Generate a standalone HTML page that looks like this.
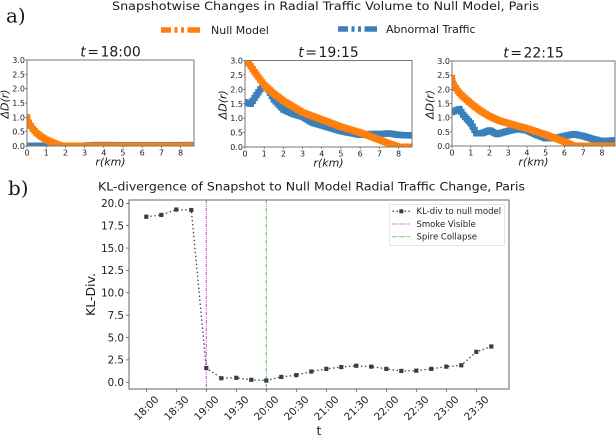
<!DOCTYPE html>
<html lang="en">
<head>
<meta charset="utf-8">
<title>Snapshotwise Changes in Radial Traffic Volume</title>
<style>
html,body{margin:0;padding:0;background:#fff;width:616px;height:436px;overflow:hidden}
svg{display:block;font-family:"DejaVu Sans","Liberation Sans",sans-serif;fill:#222}
svg text{fill:#1c1c1c}
</style>
</head>
<body>
<svg id="chart" width="616" height="436" viewBox="0 0 616 436" xmlns="http://www.w3.org/2000/svg">
  <defs>
    <filter id="soft" x="-5%" y="-5%" width="110%" height="110%"><feGaussianBlur stdDeviation="0.3"/></filter>
  </defs>
  <g id="root" filter="url(#soft)">
    <text x="6" y="22.5" font-family="'DejaVu Serif','Liberation Serif',serif" font-size="20">a)</text>
    <text x="8" y="195" font-family="'DejaVu Serif','Liberation Serif',serif" font-size="20">b)</text>
    <text x="112" y="10" font-size="11.8" textLength="427" lengthAdjust="spacingAndGlyphs">Snapshotwise Changes in Radial Traffic Volume to Null Model, Paris</text>
    <text x="98" y="190.5" font-size="11.8" textLength="427" lengthAdjust="spacingAndGlyphs">KL-divergence of Snapshot to Null Model Radial Traffic Change, Paris</text>

    <g>
      <line x1="161" x2="200" y1="30" y2="30" stroke="#ff7f0e" stroke-width="5.5" stroke-dasharray="10 3.5 3 3.5 3 3.5 13"/>
      <text x="211" y="34" font-size="11">Null Model</text>
    </g>
    <g>
      <line x1="338" x2="377" y1="29" y2="29" stroke="#3a80ba" stroke-width="5.5" stroke-dasharray="10 3.5 3 3.5 3 3.5 13"/>
      <text x="386" y="33" font-size="11">Abnormal Traffic</text>
    </g>
    <g id="plots"></g>
  </g>
</svg>
<script>
var panelTitles = ["18:00", "19:15", "22:15"];
var radialTicks = [0, 1, 2, 3, 4, 5, 6, 7, 8];
var deltaTicks = [0, 0.5, 1, 1.5, 2, 2.5, 3];

var nullR1 = [0, 0.1, 0.3, 0.5, 0.8, 1, 1.3, 1.6, 1.8, 2.5, 4, 6, 8, 8.7];
var nullD1 = [1.0, 0.8, 0.6, 0.45, 0.3, 0.22, 0.13, 0.05, 0.01, 0.01, 0.01, 0.01, 0.01, 0.01];
var abnormalR1 = [0, 1, 2, 3, 3.5, 4.5, 6, 8, 8.7];
var abnormalD1 = [0.01, 0.01, 0.01, 0.01, 0.03, 0.03, 0.02, 0.03, 0.03];

var nullR2 = [0, 0.5, 1, 1.5, 2, 3, 4, 5, 6, 7, 7.5, 8, 8.7];
var nullD2 = [3.1, 2.6, 2.15, 1.85, 1.6, 1.2, 0.95, 0.7, 0.5, 0.25, 0.12, 0.01, 0.01];
var abnormalR2 = [0, 0.3, 0.5, 0.8, 1, 1.2, 1.5, 2, 2.5, 3, 3.5, 4, 5, 6, 6.5, 7, 7.5, 8, 8.7];
var abnormalD2 = [1.55, 1.5, 1.7, 2.0, 2.15, 2.0, 1.65, 1.3, 1.15, 1.05, 0.85, 0.75, 0.55, 0.42, 0.45, 0.45, 0.47, 0.42, 0.4];

var nullR3 = [0, 0.1, 0.3, 0.5, 1, 1.5, 2, 2.5, 3, 4, 5, 6, 6.5, 7, 8, 8.7];
var nullD3 = [2.4, 2.15, 1.95, 1.8, 1.5, 1.25, 1.05, 0.9, 0.8, 0.62, 0.4, 0.15, 0.01, 0.01, 0.01, 0.01];
var abnormalR3 = [0, 0.4, 0.6, 1, 1.3, 1.6, 2, 2.4, 3, 3.5, 4, 4.5, 5, 5.5, 6, 6.5, 7, 7.5, 8, 8.7];
var abnormalD3 = [1.2, 1.3, 1.1, 0.8, 0.45, 0.45, 0.55, 0.42, 0.53, 0.6, 0.55, 0.4, 0.27, 0.28, 0.35, 0.42, 0.35, 0.25, 0.17, 0.2];

var nullRadii = [nullR1, nullR2, nullR3];
var nullSeries = [nullD1, nullD2, nullD3];
var abnormalRadii = [abnormalR1, abnormalR2, abnormalR3];
var abnormalSeries = [abnormalD1, abnormalD2, abnormalD3];

var klMinutes = [0, 15, 30, 45, 60, 75, 90, 105, 120, 135, 150, 165, 180, 195, 210, 225, 240, 255, 270, 285, 300, 315, 330, 345];
var klValues = [18.5, 18.7, 19.3, 19.25, 1.6, 0.45, 0.5, 0.28, 0.2, 0.6, 0.8, 1.2, 1.5, 1.7, 1.85, 1.75, 1.5, 1.27, 1.3, 1.5, 1.75, 1.9, 3.4, 4.0];
var klTimeTicks = [0, 30, 60, 90, 120, 150, 180, 210, 240, 270, 300, 330];
var klTimeLabels = ["18:00", "18:30", "19:00", "19:30", "20:00", "20:30", "21:00", "21:30", "22:00", "22:30", "23:00", "23:30"];
var klValueTicks = [0, 2.5, 5, 7.5, 10, 12.5, 15, 17.5, 20];
var smokeVisibleMinute = [60];
var spireCollapseMinute = [120];
var legendLabels = ["KL-div to null model", "Smoke Visible", "Spire Collapse"];

var NS = "http://www.w3.org/2000/svg";
var plots = document.getElementById("plots");

function mk(tag, parent, attrs, text) {
  var el = document.createElementNS(NS, tag);
  for (var k in attrs) { el.setAttribute(k, attrs[k]); }
  if (text !== undefined) { el.textContent = text; }
  parent.appendChild(el);
  return el;
}
function dense(xs, ys, step) {
  var out = [];
  for (var i = 0; i < xs.length - 1; i++) {
    var n = Math.max(1, Math.ceil((xs[i + 1] - xs[i]) / step));
    for (var j = 0; j < n; j++) {
      var t = j / n;
      out.push([xs[i] + (xs[i + 1] - xs[i]) * t, ys[i] + (ys[i + 1] - ys[i]) * t]);
    }
  }
  out.push([xs[xs.length - 1], ys[ys.length - 1]]);
  return out;
}

var boxes = [
  { l: 27, r: 194, t: 60, b: 146 },
  { l: 245, r: 412, t: 60.5, b: 147 },
  { l: 452, r: 615, t: 61, b: 146 }
];

function drawSeries(g, xs, ys, sx, sy, color, name) {
  var pts = dense(xs, ys, 0.12);
  var path = mk("polyline", g, {
    points: pts.map(function (p) { return sx(p[0]).toFixed(2) + "," + sy(p[1]).toFixed(2); }).join(" "),
    fill: "none", stroke: color, "stroke-width": 6
  });
  
  
  pts.forEach(function (p) {
    mk("rect", g, {
      x: (sx(p[0]) - 3.2).toFixed(2), y: (sy(p[1]) - 3.2).toFixed(2),
      width: 6.4, height: 6.4, fill: color
    });
  });
}

boxes.forEach(function (b, idx) {
  var sx = function (v) { return b.l + v * (b.r - b.l) / 8.7; };
  var sy = function (v) { return b.b - v * (b.b - b.t) / 3; };
  var panel = mk("g", plots, {});
  
  

  var clip = mk("clipPath", panel, { id: "clip" + idx });
  mk("rect", clip, { x: b.l, y: b.t, width: b.r - b.l, height: b.b - b.t });
  var marks = mk("g", panel, { "clip-path": "url(#clip" + idx + ")" });
  drawSeries(marks, abnormalRadii[idx], abnormalSeries[idx], sx, sy, "#3a80ba", "abnormal-traffic-line");
  drawSeries(marks, nullRadii[idx], nullSeries[idx], sx, sy, "#ff7f0e", "null-model-line");

  var frame = mk("rect", panel, { x: b.l, y: b.t, width: b.r - b.l, height: b.b - b.t, fill: "none", stroke: "#777", "stroke-width": 1 });
  
  

  radialTicks.forEach(function (v) {
    mk("line", panel, { x1: sx(v), x2: sx(v), y1: b.b, y2: b.b + 2, stroke: "#444", "stroke-width": 0.6 });
    var t = mk("text", panel, { x: sx(v), y: b.b + 9.5, "font-size": 8, "text-anchor": "middle" }, String(v));
    
    
  });
  deltaTicks.forEach(function (v) {
    mk("line", panel, { x1: b.l - 2, x2: b.l, y1: sy(v), y2: sy(v), stroke: "#444", "stroke-width": 0.6 });
    var t = mk("text", panel, { x: b.l - 2, y: sy(v) + 3, "font-size": 8, "text-anchor": "end" }, v.toFixed(1));
    
    
  });

  var cx = (b.l + b.r) / 2;
  var title = mk("text", panel, { x: cx, y: b.t - 3.5, "font-size": 14, "text-anchor": "middle" });
  
  
  mk("tspan", title, { "font-style": "italic" }, "t");
  mk("tspan", title, { dx: 1.5 }, "=");
  mk("tspan", title, { dx: 1.5 }, panelTitles[idx]);

  var xl = mk("text", panel, { x: cx, y: b.b + 19.5, "font-size": 11, "text-anchor": "middle", "font-style": "italic" }, "r(km)");
  
  
  var ly = (b.t + b.b) / 2 + 1;
  var yl = mk("text", panel, { x: 0, y: 0, "font-size": 11, "text-anchor": "middle", "font-style": "italic", transform: "translate(" + (b.l - 18.5) + "," + ly + ") rotate(-90)" }, "ΔD(r)");
  
  
});

/* KL-divergence chart */
var k = { l: 129, r: 509, t: 200, b: 389 };
function kx(m) { return 146.3 + m; }
function ky(v) { return 382.3 - v * 179 / 20; }
var kg = mk("g", plots, {});



smokeVisibleMinute.forEach(function (m) {
  var el = mk("line", kg, { x1: kx(m), x2: kx(m), y1: k.t, y2: k.b, stroke: "#c766cc", "stroke-width": 1.2, "stroke-dasharray": "3 1 1 1 1 1" });
  
  
});
spireCollapseMinute.forEach(function (m) {
  var el = mk("line", kg, { x1: kx(m), x2: kx(m), y1: k.t, y2: k.b, stroke: "#62c462", "stroke-width": 1.2, "stroke-dasharray": "3 1 1 1 1 1" });
  
  
});

var klLine = mk("polyline", kg, {
  points: klMinutes.map(function (m, i) { return kx(m) + "," + ky(klValues[i]).toFixed(2); }).join(" "),
  fill: "none", stroke: "#3d3d3d", "stroke-width": 1.3, "stroke-dasharray": "1.4 2.6"
});


klMinutes.forEach(function (m, i) {
  var pt = mk("rect", kg, { x: kx(m) - 2.1, y: (ky(klValues[i]) - 2.1).toFixed(2), width: 4.2, height: 4.2, fill: "#3d3d3d" });
  
  
});

var kf = mk("rect", kg, { x: k.l, y: k.t, width: k.r - k.l, height: k.b - k.t, fill: "none", stroke: "#666", "stroke-width": 1 });



klTimeTicks.forEach(function (m, i) {
  mk("line", kg, { x1: kx(m), x2: kx(m), y1: k.b, y2: k.b + 3, stroke: "#444", "stroke-width": 0.7 });
  var t = mk("text", kg, { x: 0, y: 3.6, "font-size": 10.3, "text-anchor": "middle", transform: "translate(" + kx(m) + ",408) rotate(-45)" }, klTimeLabels[i]);
  
  
});
klValueTicks.forEach(function (v) {
  mk("line", kg, { x1: k.l - 3, x2: k.l, y1: ky(v), y2: ky(v), stroke: "#444", "stroke-width": 0.7 });
  var t = mk("text", kg, { x: k.l - 5, y: ky(v) + 3.7, "font-size": 10.3, "text-anchor": "end" }, v.toFixed(1));
  
  
});
var kxt = mk("text", kg, { x: 319, y: 435, "font-size": 12.5, "text-anchor": "middle" }, "t");


var kyt = mk("text", kg, { x: 0, y: 0, "font-size": 12.5, "text-anchor": "middle", transform: "translate(95,294.5) rotate(-90)" }, "KL-Div.");



/* legend */
var lg = mk("g", kg, {});


mk("rect", lg, { x: 389.5, y: 204.5, width: 115, height: 41, rx: 1.5, fill: "#fff", stroke: "#ddd", "stroke-width": 0.7 });
var legendColors = ["#3d3d3d", "#c766cc", "#62c462"];
legendLabels.forEach(function (label, i) {
  var y = 211.3 + i * 12.7;
  var line = mk("line", lg, { x1: 392.5, x2: 410, y1: y, y2: y, stroke: legendColors[i], "stroke-width": i ? 1.1 : 1.3, "stroke-dasharray": i ? "3 1 1 1 1 1" : "1.4 2.6" });
  
  
  if (i === 0) { mk("rect", lg, { x: 399.3, y: y - 2, width: 4, height: 4, fill: "#3d3d3d" }); }
  var t = mk("text", lg, { x: 416.5, y: y + 2.9, "font-size": 8.5 }, label);
  
  
});
</script>
</body>
</html>
